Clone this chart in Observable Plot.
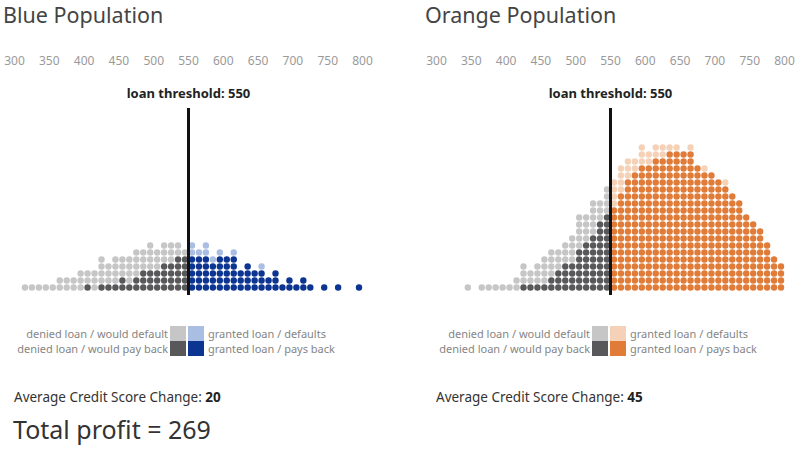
<!DOCTYPE html>
<html>
<head>
<meta charset="utf-8">
<script src="https://cdn.jsdelivr.net/npm/d3@7"></script>
<script src="https://cdn.jsdelivr.net/npm/@observablehq/plot@0.6"></script>
<style>
  html, body { margin: 0; padding: 0; background: #fff; overflow: hidden; }
  body { font-family: "Noto Sans", "Open Sans", sans-serif; }
  #root { position: relative; width: 800px; height: 450px; }
  .panel { position: absolute; top: 0; width: 400px; height: 450px; }
  .title { position: absolute; left: 3px; top: 0px; font-size: 21.5px; line-height: 30px; color: #444; white-space: nowrap; }
  .plot { position: absolute; left: 0; top: 0; }
  .legend { position: absolute; top: 326px; left: 0; width: 400px; height: 32px; font-size: 11px; color: #858585; }
  .lrow { position: absolute; height: 15px; line-height: 15px; white-space: nowrap; }
  .lleft { right: 232px; text-align: right; }
  .lright { left: 208px; }
  .sw { position: absolute; width: 16px; height: 15px; }
  .avg { position: absolute; left: 14px; top: 388px; font-size: 13.5px; line-height: 18px; color: #333; white-space: nowrap; }
  .avg b { color: #222; }
  .profit { position: absolute; left: 13px; top: 414px; font-size: 25px; line-height: 30px; color: #333; white-space: nowrap; }
</style>
</head>
<body>
<div id="root"></div>
<script>
// ---- data ----
const panelTitles = ["Blue Population", "Orange Population"];
const xTicks = [300, 350, 400, 450, 500, 550, 600, 650, 700, 750, 800];
const threshold = 550;
const bins = [315, 325, 335, 345, 355, 365, 375, 385, 395, 405, 415, 425, 435, 445, 455, 465, 475, 485, 495, 505, 515, 525, 535, 545,
              555, 565, 575, 585, 595, 605, 615, 625, 635, 645, 655, 665, 675, 685, 695, 705, 715, 725, 735, 745, 755, 765, 775, 785, 795];
const bluePayBack = [0,0,0,0,0,0,0,0,0,1,0,1,1,1,2,1,2,3,3,3,4,4,5,5,
                     5,5,5,4,5,5,5,3,4,3,3,2,3,1,2,1,2,1,0,1,0,1,0,0,1];
const blueDefault = [1,1,1,1,1,2,2,2,3,2,3,4,3,4,3,4,4,3,4,3,3,3,2,1,
                     2,1,2,1,1,0,1,0,0,0,1,0,0,0,0,0,0,0,0,0,0,0,0,0,0];
const orangePayBack = [0,0,0,0,0,0,0,0,0,0,0,1,1,1,1,2,3,4,4,6,7,8,10,11,
                       12,14,16,17,18,18,19,19,20,20,20,20,18,17,17,16,15,14,13,11,10,9,7,5,4];
const orangeDefault = [0,0,0,1,0,1,1,1,1,1,2,3,2,3,4,4,3,3,4,5,4,5,3,4,
                       4,4,3,2,3,2,2,2,1,1,0,1,0,1,0,0,1,0,0,0,0,0,0,0,0];
const categories = ["denied loan / would default", "denied loan / would pay back", "granted loan / defaults", "granted loan / pays back"];
const blueColors = ["#c6c6c6", "#58585a", "#aabde3", "#0c3592"];
const orangeColors = ["#c6c6c6", "#58585a", "#f5d2b7", "#e07b38"];
const avgChange = [20, 45];
const totalProfit = 269;

// ---- build ----
function dotsFor(payBack, deflt) {
  const out = [];
  bins.forEach((b, i) => {
    const granted = b >= threshold;
    for (let r = 0; r < payBack[i]; r++)
      out.push({bin: b, row: r + 1, cat: granted ? categories[3] : categories[1]});
    for (let r = 0; r < deflt[i]; r++)
      out.push({bin: b, row: payBack[i] + r + 1, cat: granted ? categories[2] : categories[0]});
  });
  return out;
}

const root = document.getElementById("root");
const panels = [
  {left: 0, title: panelTitles[0], dots: dotsFor(bluePayBack, blueDefault), colors: blueColors, avg: avgChange[0], profit: totalProfit},
  {left: 422, title: panelTitles[1], dots: dotsFor(orangePayBack, orangeDefault), colors: orangeColors, avg: avgChange[1]}
];

for (const p of panels) {
  const div = document.createElement("div");
  div.className = "panel";
  div.style.left = p.left + "px";
  root.appendChild(div);

  const chart = Plot.plot({
    width: 400,
    height: 300,
    marginLeft: 14,
    marginRight: 38,
    marginTop: 108,
    marginBottom: 5,
    style: {fontFamily: "'Noto Sans', sans-serif", background: "transparent", overflow: "visible"},
    x: {domain: [300, 800]},
    y: {domain: [1, 21], range: [287, 147], axis: null},
    color: {domain: categories, range: p.colors},
    marks: [
      Plot.axisX(xTicks, {anchor: "top", tickSize: 0, tickPadding: 44, tickFormat: d => String(d), color: "#9a9a9a", fontSize: 12, label: null}),
      Plot.dot(p.dots, {x: "bin", y: "row", r: 3.2, fill: "cat", stroke: null}),
      Plot.ruleX([threshold], {stroke: "#111", strokeWidth: 3}),
      Plot.text([threshold], {x: d => d, frameAnchor: "top", dy: -20, text: d => "loan threshold: " + d, fontWeight: "bold", fontSize: 13, fill: "#222"})
    ]
  });
  chart.classList.add("plot");
  div.appendChild(chart);

  const t = document.createElement("div");
  t.className = "title";
  t.textContent = p.title;
  div.appendChild(t);

  // legend
  const lg = document.createElement("div");
  lg.className = "legend";
  const rows = [[categories[0], categories[2], p.colors[0], p.colors[2]], [categories[1], categories[3], p.colors[1], p.colors[3]]];
  rows.forEach((r, i) => {
    const top = i * 15;
    const a = document.createElement("div"); a.className = "lrow lleft"; a.style.top = top + "px"; a.textContent = r[0]; lg.appendChild(a);
    const s1 = document.createElement("div"); s1.className = "sw"; s1.style.left = "170px"; s1.style.top = top + "px"; s1.style.background = r[2]; lg.appendChild(s1);
    const s2 = document.createElement("div"); s2.className = "sw"; s2.style.left = "188px"; s2.style.top = top + "px"; s2.style.background = r[3]; lg.appendChild(s2);
    const b = document.createElement("div"); b.className = "lrow lright"; b.style.top = top + "px"; b.textContent = r[1]; lg.appendChild(b);
  });
  div.appendChild(lg);

  const avg = document.createElement("div");
  avg.className = "avg";
  avg.innerHTML = "Average Credit Score Change: <b>" + p.avg + "</b>";
  div.appendChild(avg);

  if (p.profit !== undefined) {
    const pr = document.createElement("div");
    pr.className = "profit";
    pr.textContent = "Total profit = " + p.profit;
    div.appendChild(pr);
  }
}
</script>
</body>
</html>
